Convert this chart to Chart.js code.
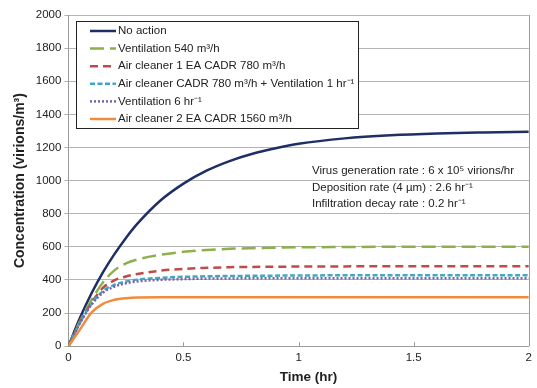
<!DOCTYPE html>
<html>
<head>
<meta charset="utf-8">
<script src="https://cdn.jsdelivr.net/npm/chart.js@4.4.1/dist/chart.umd.min.js"></script>
<style>
  html, body { margin: 0; padding: 0; background: #fff; }
  #wrap { width: 537px; height: 388px; }
</style>
</head>
<body>
<div id="wrap"><canvas id="c" width="537" height="388"></canvas></div>
<script>
// time points (hr)
const times = [0, 0.05, 0.1, 0.15, 0.2, 0.25, 0.3, 0.4, 0.5, 0.6, 0.7, 0.8, 0.9, 1.0, 1.2, 1.4, 1.6, 1.8, 2.0];

// concentration readings (virions/m3)
const noAction   = [0, 170, 318, 446, 556, 654, 740, 880, 982, 1060, 1118, 1162, 1195, 1222, 1255, 1274, 1285, 1291, 1295];
const vent540    = [0, 150, 278, 385, 458, 500, 524, 552, 570, 581, 588, 592, 595, 597, 599, 600, 600, 600, 600];
const cleaner1   = [0, 145, 262, 352, 398, 421, 436, 456, 467, 473, 477, 479, 480, 481, 482, 483, 483, 483, 483];
const cleanerVent= [0, 140, 255, 333, 371, 391, 402, 413, 419, 422, 424, 425, 426, 427, 428, 428, 428, 428, 428];
const vent6      = [0, 138, 250, 323, 360, 380, 391, 401, 405, 408, 409, 410, 410, 411, 411, 411, 411, 411, 411];
const cleaner2   = [0, 100, 203, 256, 280, 290, 294, 295, 295, 295, 295, 295, 295, 295, 295, 295, 295, 295, 295];

const seriesNames = [
  'No action',
  'Ventilation 540 m\u00b3/h',
  'Air cleaner 1 EA CADR 780 m\u00b3/h',
  'Air cleaner CADR 780 m\u00b3/h + Ventilation 1 hr\u207b\u00b9',
  'Ventilation 6 hr\u207b\u00b9',
  'Air cleaner 2 EA CADR 1560 m\u00b3/h'
];
const seriesValues = [noAction, vent540, cleaner1, cleanerVent, vent6, cleaner2];

const xTicks = [0, 0.5, 1, 1.5, 2];
const xTitle = 'Time (hr)';
const notes = [
  'Virus generation rate : 6 x 10\u2075 virions/hr',
  'Deposition rate (4 \u00b5m) : 2.6 hr\u207b\u00b9',
  'Infiltration decay rate : 0.2 hr\u207b\u00b9'
];

const colors = ['#1f2f66', '#8cb04c', '#be4b48', '#43a6c4', '#7b63a3', '#f08c3c'];
const dashes = [[], [14, 6], [8, 5], [5, 2.5], [2, 2], []];

const FONT = '"Liberation Sans", Arial, sans-serif';

// navy drawn last so it sits on top
const datasets = seriesValues.map((vals, i) => ({
  label: seriesNames[i],
  data: times.map((t, j) => ({ x: t, y: vals[j] })),
  borderColor: colors[i],
  borderWidth: 2.5,
  borderDash: dashes[i],
  pointRadius: 0,
  fill: false,
  cubicInterpolationMode: 'monotone'
})).reverse();

// plot frame on the right
const frame = {
  id: 'frame',
  beforeDatasetsDraw(chart) {
    const a = chart.chartArea, ctx = chart.ctx;
    ctx.save();
    ctx.strokeStyle = '#9a9a9a';
    ctx.lineWidth = 1;
    ctx.beginPath();
    ctx.moveTo(Math.round(a.right) + 0.5, a.top);
    ctx.lineTo(Math.round(a.right) + 0.5, a.bottom);
    ctx.stroke();
    ctx.restore();
  }
};

// custom legend box + notes + inner tick marks + x title
const decorations = {
  id: 'decorations',
  afterDraw(chart) {
    const ctx = chart.ctx;
    const area = chart.chartArea;
    const xs = chart.scales.x;

    ctx.save();
    ctx.strokeStyle = '#9a9a9a';
    ctx.lineWidth = 1;
    xTicks.slice(1, -1).forEach(v => {
      const px = Math.round(xs.getPixelForValue(v)) + 0.5;
      ctx.beginPath();
      ctx.moveTo(px, area.bottom);
      ctx.lineTo(px, area.bottom - 4);
      ctx.stroke();
    });

    // x axis title, sits a little right of centre like the original
    ctx.font = 'bold 13.5px ' + FONT;
    ctx.fillStyle = '#222';
    ctx.textAlign = 'center';
    ctx.textBaseline = 'middle';
    ctx.fillText(xTitle, xs.getPixelForValue(1) + 10, 377);

    // legend box
    const bx = 76.5, by = 21.5, bw = 282, bh = 107;
    ctx.fillStyle = '#fff';
    ctx.fillRect(bx, by, bw, bh);
    ctx.strokeStyle = '#222';
    ctx.lineWidth = 1;
    ctx.strokeRect(bx, by, bw, bh);

    ctx.font = '11.5px ' + FONT;
    ctx.textAlign = 'left';
    seriesNames.forEach((name, i) => {
      const y = 31 + i * 17.6;
      ctx.strokeStyle = colors[i];
      ctx.lineWidth = 2.5;
      ctx.setLineDash(dashes[i]);
      ctx.beginPath();
      ctx.moveTo(90, y);
      ctx.lineTo(116, y);
      ctx.stroke();
      ctx.setLineDash([]);
      ctx.fillStyle = '#222';
      ctx.fillText(name, 118, y);
    });

    // notes
    ctx.font = '11.5px ' + FONT;
    ctx.fillStyle = '#222';
    notes.forEach((n, i) => ctx.fillText(n, 312, 171 + i * 16.5));
    ctx.restore();
  }
};

new Chart(document.getElementById('c'), {
  type: 'line',
  data: { datasets },
  plugins: [frame, decorations],
  options: {
    responsive: false,
    animation: false,
    layout: { padding: { left: 12, right: 0, top: 15, bottom: 18 } },
    plugins: {
      legend: { display: false },
      tooltip: { enabled: false }
    },
    scales: {
      x: {
        type: 'linear',
        min: 0,
        max: 2,
        afterBuildTicks: axis => { axis.ticks = xTicks.map(v => ({ value: v })); },
        grid: { display: false, drawTicks: false },
        border: { display: true, color: '#9a9a9a', width: 1 },
        ticks: {
          color: '#222',
          font: { family: FONT, size: 11.5 },
          padding: 5,
          maxRotation: 0,
          callback: v => String(v)
        },
        title: { display: false }
      },
      y: {
        min: 0,
        max: 2000,
        ticks: {
          stepSize: 200,
          color: '#222',
          font: { family: FONT, size: 11.5 },
          padding: 3,
          callback: v => String(v)
        },
        grid: {
          color: '#b4b4b4',
          lineWidth: 1,
          tickLength: 4,
          drawTicks: true
        },
        border: { display: true, color: '#9a9a9a', width: 1 },
        title: {
          display: true,
          text: 'Concentration (virions/m\u00b3)',
          color: '#222',
          font: { family: FONT, size: 14, weight: 'bold' },
          padding: { top: 0, bottom: 4 }
        }
      }
    }
  }
});
</script>
</body>
</html>
